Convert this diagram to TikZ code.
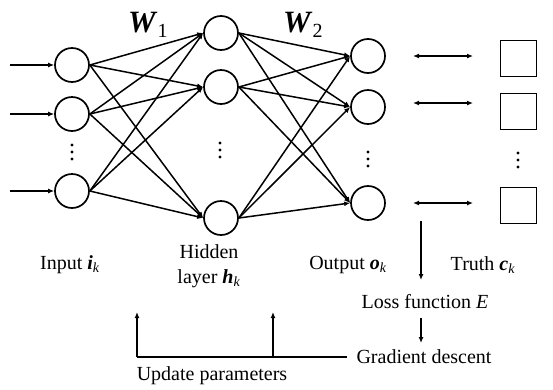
\documentclass[tikz,border=0pt]{standalone}
\usepackage{fontspec}
\setmainfont{Liberation Serif}
\usetikzlibrary{arrows.meta}
\newcommand{\bvec}[2]{\textbf{\textit{#1}}\textsubscript{\textit{#2}}}
\begin{document}
\begin{tikzpicture}[x=1pt,y=-1pt,
  neuron/.style={circle,draw,line width=1.7pt,minimum size=34pt,inner sep=0pt},
  truthbox/.style={rectangle,draw,line width=1pt,minimum size=36pt,inner sep=0pt},
  link/.style={line width=1.5pt,-{Latex[length=6pt,width=5pt]}},
  twoway/.style={line width=1.3pt,{Latex[length=6pt,width=5pt]}-{Latex[length=6pt,width=5pt]}},
  label/.style={font=\fontsize{20}{25}\selectfont,inner sep=0pt,align=center},
  weight/.style={inner sep=0pt,anchor=base west},
  dot/.style={circle,fill,inner sep=0pt,minimum size=3.4pt}]
\useasboundingbox (0,0) rectangle (553,389);

% vertical ellipsis of three dots centred at a point
\newcommand{\dotcol}[3]{%
  \node[dot] (#1a) at (#2,#3-7) {};
  \node[dot] (#1b) at (#2,#3) {};
  \node[dot] (#1c) at (#2,#3+7) {};}

% input layer
\node[neuron] (i1) at (72,65) {};
\node[neuron] (i2) at (72,114) {};
\node[neuron] (i3) at (72,191) {};
\dotcol{id}{72}{152}

% hidden layer
\node[neuron] (h1) at (221,33) {};
\node[neuron] (h2) at (221,87) {};
\node[neuron] (h3) at (221,218) {};
\dotcol{hd}{220}{150}

% output layer
\node[neuron] (o1) at (368,56) {};
\node[neuron] (o2) at (368,107) {};
\node[neuron] (o3) at (368,203) {};
\dotcol{od}{368}{159}

% ground truth
\node[truthbox] (c1) at (518,58) {};
\node[truthbox] (c2) at (518,111) {};
\node[truthbox] (c3) at (518,205) {};
\dotcol{cd}{518}{160}

% weight labels
\node[weight] (w1) at (128,32) {{\fontsize{31}{31}\selectfont\textbf{\textit{W}}}\raisebox{-5pt}{\fontsize{20}{20}\selectfont 1}};
\node[weight] (w2) at (283,32) {{\fontsize{31}{31}\selectfont\textbf{\textit{W}}}\raisebox{-5pt}{\fontsize{20}{20}\selectfont 2}};

% incoming signals
\coordinate (s1) at (10,65);
\coordinate (s2) at (10,114);
\coordinate (s3) at (10,191);
\foreach \k in {1,2,3} \draw[link] (s\k) -- (i\k.west);

% fully connected weights
\foreach \a in {1,2,3}
  \foreach \b in {1,2,3} {
    \draw[link] (i\a.east) -- (h\b.west);
    \draw[link] (h\a.east) -- (o\b.west);
  }

% comparison with the truth
\coordinate (a1l) at (413,56);  \coordinate (a1r) at (473,56);
\coordinate (a2l) at (413,103); \coordinate (a2r) at (473,103);
\coordinate (a3l) at (413,203); \coordinate (a3r) at (473,203);
\foreach \k in {1,2,3} \draw[twoway] (a\k l) -- (a\k r);

% layer captions
\node[label] (li) at (70,265) {Input \bvec{i}{k}};
\node[label] (lh) at (209,266) {Hidden\\layer \bvec{h}{k}};
\node[label] (lo) at (348,265) {Output \bvec{o}{k}};
\node[label] (lc) at (483,265) {Truth \bvec{c}{k}};

% training loop
\node[label] (loss) at (425,302) {Loss function \textit{E}};
\node[label] (grad) at (424,357) {Gradient descent};
\node[label] (upd) at (212,376) {Update parameters};

\coordinate (l1) at (421,221);
\coordinate (l2) at (421,280);
\coordinate (l3) at (421,318);
\coordinate (l4) at (421,343);
\draw[link] (l1) -- (l2);
\draw[link] (l3) -- (l4);

\coordinate (g0) at (347,357);
\coordinate (u1) at (137,357);
\coordinate (u2) at (273,357);
\coordinate (t1) at (137,312);
\coordinate (t2) at (273,312);
\draw[line width=1.5pt] (g0) -- (u1);
\draw[link] (u1) -- (t1);
\draw[link] (u2) -- (t2);
\end{tikzpicture}
\end{document}
